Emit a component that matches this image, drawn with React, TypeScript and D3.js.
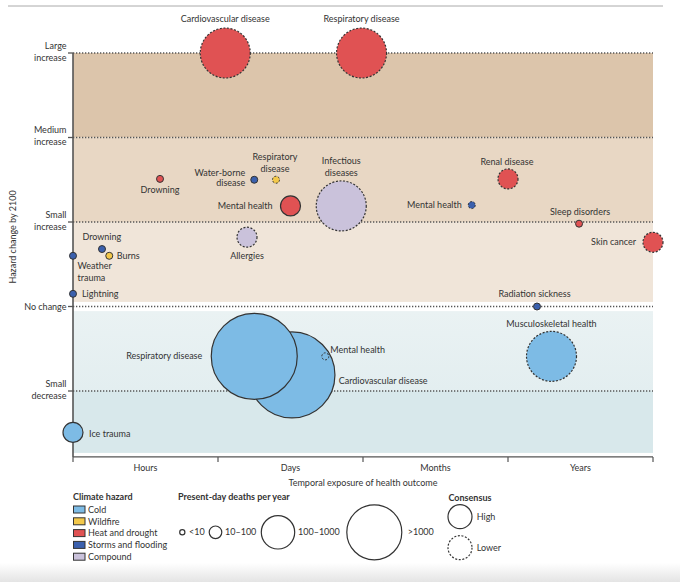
import React from 'react';
import * as d3 from 'd3';

// hazard categories and their fills
const hazards = ['Cold', 'Wildfire', 'Heat and drought', 'Storms and flooding', 'Compound'];
const hazardColors = ['#7dbbe5', '#f3c84a', '#e05253', '#3b60ad', '#cac2db'];

// y levels (hazard change by 2100)
const levelValues = [-1, 0, 1, 2, 3];
const levelLabels = [['Small', 'decrease'], ['No change'], ['Small', 'increase'], ['Medium', 'increase'], ['Large', 'increase']];

// x periods (temporal exposure)
const exposures = ['Hours', 'Days', 'Months', 'Years'];

const deathBins = ['<10', '10–100', '100–1000', '>1000'];
const consensusLevels = ['High', 'Lower'];

interface Outcome {
  name: string[];
  hazard: string;
  exposure: number;
  change: number;
  deaths: string;
  consensus: string;
}

const outcomes: Outcome[] = [
  { name: ['Cardiovascular disease'], hazard: 'Heat and drought', exposure: 1.05, change: 3, deaths: '100–1000', consensus: 'Lower' },
  { name: ['Respiratory disease'], hazard: 'Heat and drought', exposure: 1.99, change: 3, deaths: '100–1000', consensus: 'Lower' },
  { name: ['Drowning'], hazard: 'Heat and drought', exposure: 0.6, change: 1.51, deaths: '<10', consensus: 'High' },
  { name: ['Water-borne', 'disease'], hazard: 'Storms and flooding', exposure: 1.25, change: 1.5, deaths: '<10', consensus: 'High' },
  { name: ['Respiratory', 'disease'], hazard: 'Wildfire', exposure: 1.4, change: 1.5, deaths: '<10', consensus: 'Lower' },
  { name: ['Mental health'], hazard: 'Heat and drought', exposure: 1.5, change: 1.19, deaths: '10–100', consensus: 'High' },
  { name: ['Infectious', 'diseases'], hazard: 'Compound', exposure: 1.85, change: 1.19, deaths: '100–1000', consensus: 'Lower' },
  { name: ['Allergies'], hazard: 'Compound', exposure: 1.2, change: 0.82, deaths: '10–100', consensus: 'Lower' },
  { name: ['Renal disease'], hazard: 'Heat and drought', exposure: 3.0, change: 1.51, deaths: '10–100', consensus: 'Lower' },
  { name: ['Mental health'], hazard: 'Storms and flooding', exposure: 2.75, change: 1.2, deaths: '<10', consensus: 'Lower' },
  { name: ['Sleep disorders'], hazard: 'Heat and drought', exposure: 3.49, change: 0.98, deaths: '<10', consensus: 'High' },
  { name: ['Skin cancer'], hazard: 'Heat and drought', exposure: 4.0, change: 0.76, deaths: '10–100', consensus: 'Lower' },
  { name: ['Drowning'], hazard: 'Storms and flooding', exposure: 0.2, change: 0.68, deaths: '<10', consensus: 'High' },
  { name: ['Burns'], hazard: 'Wildfire', exposure: 0.25, change: 0.6, deaths: '<10', consensus: 'High' },
  { name: ['Weather', 'trauma'], hazard: 'Storms and flooding', exposure: 0, change: 0.6, deaths: '<10', consensus: 'High' },
  { name: ['Lightning'], hazard: 'Storms and flooding', exposure: 0, change: 0.15, deaths: '<10', consensus: 'High' },
  { name: ['Radiation sickness'], hazard: 'Storms and flooding', exposure: 3.2, change: 0, deaths: '<10', consensus: 'High' },
  { name: ['Cardiovascular disease'], hazard: 'Cold', exposure: 1.51, change: -0.81, deaths: '>1000', consensus: 'High' },
  { name: ['Respiratory disease'], hazard: 'Cold', exposure: 1.25, change: -0.59, deaths: '>1000', consensus: 'High' },
  { name: ['Mental health'], hazard: 'Cold', exposure: 1.74, change: -0.59, deaths: '<10', consensus: 'Lower' },
  { name: ['Musculoskeletal health'], hazard: 'Cold', exposure: 3.3, change: -0.59, deaths: '100–1000', consensus: 'Lower' },
  { name: ['Ice trauma'], hazard: 'Cold', exposure: 0, change: -1.49, deaths: '10–100', consensus: 'High' },
];

// where each label sits relative to its bubble (same order as outcomes)
const labelPlacement: { anchor: string; dx: number; dy: number[] }[] = [
  { anchor: 'middle', dx: 0, dy: [-34] },
  { anchor: 'middle', dx: 0, dy: [-34] },
  { anchor: 'middle', dx: 0, dy: [11] },
  { anchor: 'end', dx: -9, dy: [-7, 3.6] },
  { anchor: 'middle', dx: -1, dy: [-22.7, -10.7] },
  { anchor: 'end', dx: -18, dy: [0] },
  { anchor: 'middle', dx: 0, dy: [-45, -33.4] },
  { anchor: 'middle', dx: 0, dy: [19] },
  { anchor: 'middle', dx: -1, dy: [-16.6] },
  { anchor: 'end', dx: -10, dy: [-0.6] },
  { anchor: 'middle', dx: 1, dy: [-11.7] },
  { anchor: 'end', dx: -17, dy: [0] },
  { anchor: 'start', dx: -19.6, dy: [-11.6] },
  { anchor: 'start', dx: 7.5, dy: [0] },
  { anchor: 'start', dx: 4.5, dy: [10, 22] },
  { anchor: 'start', dx: 9, dy: [0] },
  { anchor: 'middle', dx: -2.4, dy: [-12.3] },
  { anchor: 'start', dx: 46.7, dy: [6.4] },
  { anchor: 'end', dx: -52, dy: [0] },
  { anchor: 'start', dx: 5, dy: [-6] },
  { anchor: 'middle', dx: 0, dy: [-32.7] },
  { anchor: 'start', dx: 16, dy: [1.6] },
];

const W = 680;
const H = 582;
const margin = { left: 73, right: 27, top: 53, bottom: 125 };
const FONT = 'Lato, "Open Sans", sans-serif';
const TXT = '#333';
const AXIS = '#555';

const App: React.FC = () => {
  const x = d3.scaleLinear().domain([0, 4]).range([margin.left, W - margin.right]);
  const y = d3.scaleLinear().domain([-1, 3]).range([391, margin.top]);
  const yBottom = y(-1.78);

  const color = d3.scaleOrdinal<string, string>().domain(hazards).range(hazardColors);
  const radius = d3.scaleOrdinal<string, number>().domain(deathBins).range([3.5, 10, 25, 43]);
  const legendRadius = d3.scaleOrdinal<string, number>().domain(deathBins).range([2.6, 6.3, 16.7, 27.5]);
  const dash = (c: string) => (c === 'Lower' ? '2 1.6' : undefined);

  const x0 = x(0);
  const x1 = x(4);
  const gap = 4.6;

  // background bands, top to bottom
  const bands = [
    { y0: y(3), y1: y(2), fill: '#dcc5ab' },
    { y0: y(2), y1: y(1), fill: '#e8d7c4' },
    { y0: y(1), y1: y(0) - gap, fill: '#f0e5d9' },
    { y0: y(0) + gap, y1: y(-1), fill: 'url(#blueTop)' },
    { y0: y(-1), y1: yBottom - 4, fill: '#d8e8eb' },
  ];

  const sizeLegendX = [182.3, 215.5, 278, 374.3];
  const sizeLabelX = [189, 225, 298, 407.7];

  return (
    <svg width={W} height={H} style={{ position: 'absolute', left: 0, top: 0, background: '#fff' }} fontFamily={FONT}>
      <defs>
        <linearGradient id="blueTop" x1="0" y1="0" x2="0" y2="1">
          <stop offset="0" stopColor="#eaf2f3" />
          <stop offset="1" stopColor="#e3eef0" />
        </linearGradient>
        <linearGradient id="shade" x1="0" y1="0" x2="0" y2="1">
          <stop offset="0" stopColor="#ffffff" />
          <stop offset="1" stopColor="#e4e4e4" />
        </linearGradient>
      </defs>

      <line x1={8} x2={663} y1={6} y2={6} stroke="#aaa" strokeWidth={1} />

      {bands.map((b, i) => (
        <rect key={i} x={x0} y={b.y0} width={x1 - x0} height={b.y1 - b.y0} fill={b.fill} />
      ))}

      {levelValues.map(v => (
        <line key={v} x1={x0} x2={x1} y1={y(v)} y2={y(v)} stroke={AXIS} strokeWidth={1.3} strokeDasharray="1.3 1.7" />
      ))}

      {/* y axis */}
      <line x1={x0} x2={x0} y1={y(3)} y2={yBottom} stroke={AXIS} strokeWidth={1.6} />
      {levelValues.map((v, i) => (
        <g key={v}>
          <line x1={x0 - 5} x2={x0} y1={y(v)} y2={y(v)} stroke={AXIS} strokeWidth={1.3} />
          <text textAnchor="end" fontSize={9} fill={TXT}>
            {levelLabels[i].map((l, j) => (
              <tspan key={j} x={x0 - 6.5} y={y(v) + (levelLabels[i].length === 1 ? 3 : j === 0 ? -4.5 : 7.5)}>{l}</tspan>
            ))}
          </text>
        </g>
      ))}
      <text transform={`translate(16,${237}) rotate(-90)`} textAnchor="middle" fontSize={9} fill={TXT}>Hazard change by 2100</text>

      {/* x axis */}
      <line x1={x0} x2={x1} y1={yBottom} y2={yBottom} stroke={AXIS} strokeWidth={1.3} />
      {d3.range(0, 5).map(t => (
        <line key={t} x1={x(t)} x2={x(t)} y1={yBottom} y2={yBottom + 5} stroke={AXIS} strokeWidth={1.2} />
      ))}
      {exposures.map((e, i) => (
        <text key={e} x={x(i + 0.5)} y={yBottom + 14} textAnchor="middle" fontSize={9} fill={TXT}>{e}</text>
      ))}
      <text x={x(2)} y={yBottom + 29} textAnchor="middle" fontSize={9} fill={TXT}>Temporal exposure of health outcome</text>

      {/* bubbles */}
      {outcomes.map((d, i) => (
        <circle
          key={i}
          cx={x(d.exposure)}
          cy={y(d.change)}
          r={radius(d.deaths)}
          fill={color(d.hazard)}
          stroke="#333"
          strokeWidth={d.deaths === '<10' ? 1 : 1.2}
          strokeDasharray={dash(d.consensus)}
        />
      ))}
      {outcomes.map((d, i) => {
        const p = labelPlacement[i];
        return (
          <text key={i} textAnchor={p.anchor} fontSize={9} fill={TXT}>
            {d.name.map((l, j) => (
              <tspan key={j} x={x(d.exposure) + p.dx} y={y(d.change) + p.dy[j] + 3}>{l}</tspan>
            ))}
          </text>
        );
      })}

      {/* legend: climate hazard */}
      <text x={73} y={500} fontSize={9} fontWeight="bold" fill={TXT}>Climate hazard</text>
      {hazards.map((h, i) => (
        <g key={h}>
          <rect x={73.5} y={506 + i * 11.8} width={11.5} height={7} fill={color(h)} stroke="#333" strokeWidth={1} />
          <text x={88} y={512.8 + i * 11.8} fontSize={9} fill={TXT}>{h}</text>
        </g>
      ))}

      {/* legend: deaths */}
      <text x={178} y={500} fontSize={9} fontWeight="bold" fill={TXT}>Present-day deaths per year</text>
      {deathBins.map((b, i) => (
        <g key={b}>
          <circle cx={sizeLegendX[i]} cy={532.3} r={legendRadius(b)} fill="none" stroke="#333" strokeWidth={1.2} />
          <text x={sizeLabelX[i]} y={535.3} fontSize={9} fill={TXT}>{b}</text>
        </g>
      ))}

      {/* legend: consensus */}
      <text x={448.5} y={500.5} fontSize={9} fontWeight="bold" fill={TXT}>Consensus</text>
      {consensusLevels.map((c, i) => (
        <g key={c}>
          <circle cx={460} cy={516.7 + i * 31} r={12} fill="none" stroke="#333" strokeWidth={1.2} strokeDasharray={dash(c)} />
          <text x={476.7} y={519.7 + i * 31} fontSize={9} fill={TXT}>{c}</text>
        </g>
      ))}

      <rect x={0} y={563} width={W} height={H - 563} fill="url(#shade)" />
    </svg>
  );
};

export default App;
